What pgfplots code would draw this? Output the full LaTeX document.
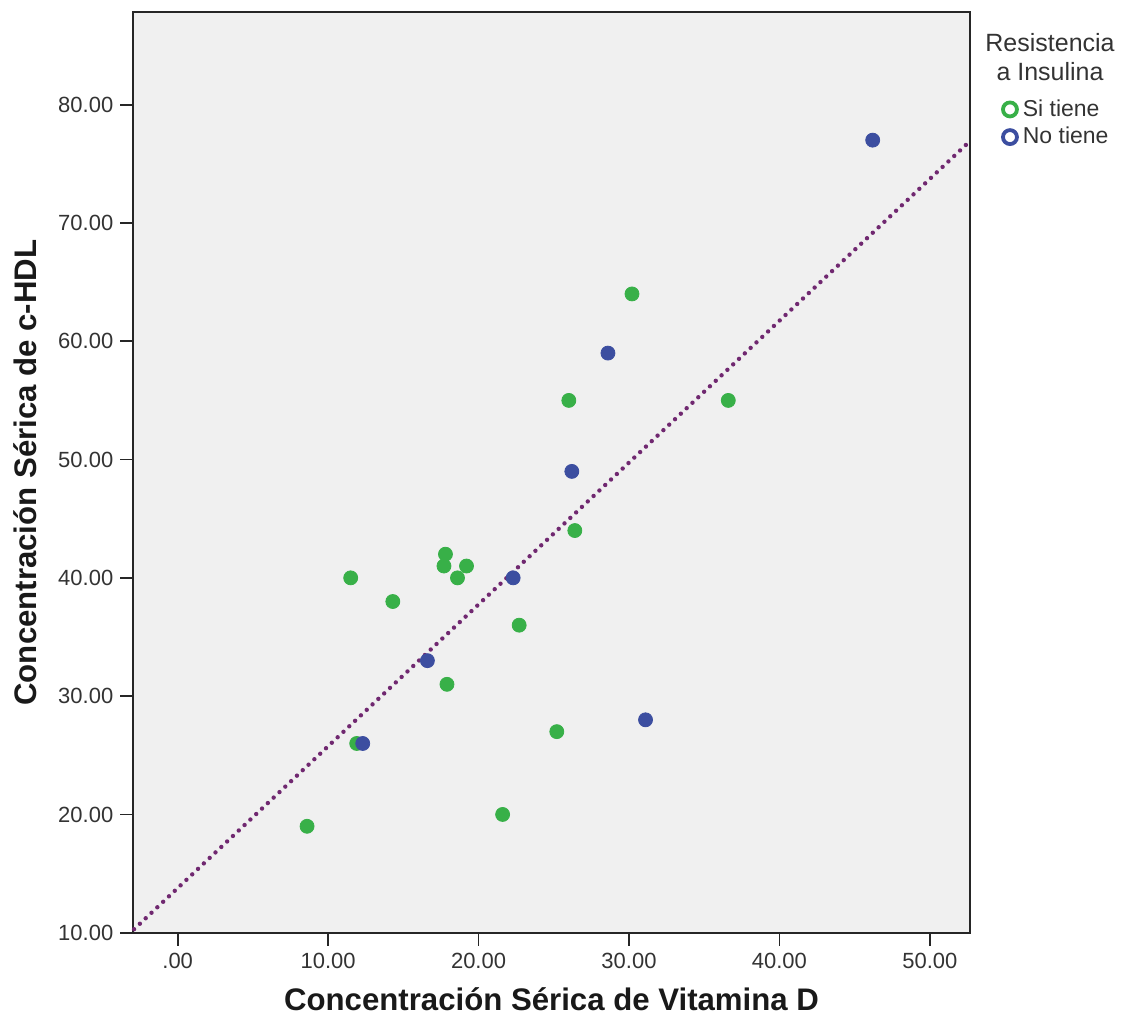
\documentclass[border=0pt]{standalone}
\usepackage{pgfplots}
\pgfplotsset{compat=1.18}
\usepackage{fontspec}
\setmainfont{Liberation Sans}
\definecolor{gr}{RGB}{56,176,72}
\definecolor{bl}{RGB}{60,78,160}
\definecolor{fitc}{RGB}{112,40,112}
\definecolor{bg}{RGB}{240,240,240}
\begin{document}
\begin{tikzpicture}
\draw[white] (-66.5pt,-48pt) rectangle (502.5pt,466.5pt);
\begin{axis}[
  at={(0,0)}, anchor=south west,
  scale only axis, width=418.5pt, height=460.5pt,
  clip=false,
  xmin=-2.95, xmax=52.65, ymin=10, ymax=87.8,
  axis background/.style={fill=bg},
  axis line style={black!85, line width=0.9pt},
  tick align=outside, tick pos=left,
  major tick length=6.5pt,
  tick style={black!85, line width=0.9pt},
  xtick={0,10,20,30,40,50},
  xticklabels={.00,10.00,20.00,30.00,40.00,50.00},
  ytick={10,20,30,40,50,60,70,80},
  yticklabels={10.00,20.00,30.00,40.00,50.00,60.00,70.00,80.00},
  ticklabel style={font=\fontsize{11}{13}\selectfont, text=black!80},
  xlabel={\textbf{Concentración Sérica de Vitamina D}},
  ylabel={\textbf{Concentración Sérica de c-HDL}},
  label style={font=\fontsize{15.6}{18}\selectfont, text=black!90},
  xlabel style={yshift=-3pt},
  ylabel style={yshift=4pt},
  legend style={at={(1.037,0.91)}, anchor=north west, draw=none, fill=none,
    font=\fontsize{11.5}{13}\selectfont, row sep=0pt,
    legend cell align=left, inner sep=0pt, text=black!80},
  legend image code/.code={\draw[#1, line width=1.9pt] (0.13cm,0cm) circle (3.5pt);},
]
\addplot[fitc, line width=2.2pt, line cap=round, dash pattern=on 0pt off 4pt, forget plot] coordinates {(-2.9,10.3) (52.65,76.9)};
\addplot[only marks, mark=*, mark size=3.5pt, color=gr, mark options={draw=gr, fill=gr}] coordinates {
(8.6,19) (11.5,40) (14.3,38) (11.9,26) (17.8,42) (17.7,41) (19.2,41) (18.6,40)
(17.9,31) (22.7,36) (21.6,20) (25.2,27) (26.0,55) (26.4,44) (30.2,64) (36.6,55)
};
\addplot[only marks, mark=*, mark size=3.5pt, color=bl, mark options={draw=bl, fill=bl}] coordinates {
(12.3,26) (16.6,33) (22.3,40) (26.2,49) (28.6,59) (31.1,28) (46.2,77)
};
\legend{Si tiene, No tiene}
\node[anchor=north, align=center, font=\fontsize{12.5}{14.5}\selectfont, text=black!80]
  at (rel axis cs:1.096,0.985) {Resistencia\\a Insulina};
\end{axis}
\end{tikzpicture}
\end{document}
